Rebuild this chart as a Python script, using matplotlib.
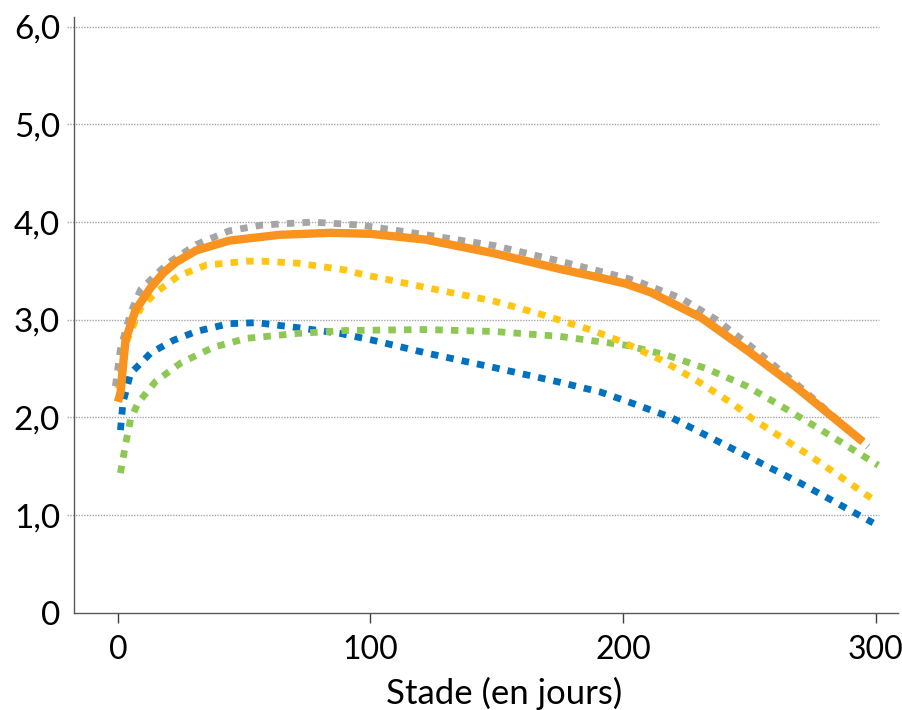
import numpy as np
import matplotlib
matplotlib.use("Agg")
import matplotlib.pyplot as plt

plt.rcParams['font.family'] = ['Lato', 'DejaVu Sans']

# values (stade in days, value)
gray_x = [-1, 1, 5, 9, 17, 21, 31, 44, 57, 77, 96, 122, 149, 175, 201, 207, 223, 237, 250, 267, 297]
gray_y = [2.32, 2.70, 3.07, 3.31, 3.51, 3.60, 3.77, 3.91, 3.97, 4.00, 3.97, 3.87, 3.76, 3.60, 3.43,
          3.38, 3.22, 3.00, 2.74, 2.38, 1.70]

orange_x = [0, 1, 3, 7, 13, 18, 23, 31, 44, 64, 84, 100, 122, 149, 175, 191, 201, 211, 231, 250, 269, 295]
orange_y = [2.16, 2.25, 2.79, 3.10, 3.33, 3.48, 3.59, 3.71, 3.81, 3.87, 3.89, 3.88, 3.82, 3.68, 3.52,
            3.43, 3.37, 3.28, 3.02, 2.67, 2.30, 1.75]

yellow_x = [0, 3, 9, 15, 24, 35, 51, 57, 71, 90, 96, 122, 149, 167, 188, 200, 215, 229, 244, 251, 275, 299]
yellow_y = [2.30, 2.75, 3.12, 3.28, 3.45, 3.56, 3.60, 3.60, 3.58, 3.51, 3.47, 3.33, 3.19, 3.06, 2.89,
            2.77, 2.59, 2.38, 2.13, 1.99, 1.59, 1.16]

green_x = [1, 3, 5, 8, 15, 25, 38, 51, 71, 90, 122, 149, 175, 201, 217, 233, 249, 263, 283, 301]
green_y = [1.43, 1.72, 1.98, 2.15, 2.37, 2.56, 2.72, 2.81, 2.86, 2.89, 2.90, 2.88, 2.83, 2.74,
           2.64, 2.50, 2.32, 2.11, 1.80, 1.51]

blue_x = [1, 2, 5, 13, 22, 31, 44, 55, 71, 88, 101, 122, 149, 175, 191, 201, 219, 244, 270, 299]
blue_y = [1.87, 2.15, 2.45, 2.66, 2.79, 2.88, 2.96, 2.97, 2.92, 2.86, 2.79, 2.66, 2.51, 2.36,
          2.26, 2.17, 2.00, 1.67, 1.33, 0.92]

y_ticks = [0, 1, 2, 3, 4, 5, 6]
y_labels = ["0", "1,0", "2,0", "3,0", "4,0", "5,0", "6,0"]
x_ticks = [0, 100, 200, 300]

fig = plt.figure(figsize=(9.02, 7.1), dpi=100)
ax = fig.add_axes([0.082, 0.137, 0.914, 0.839])

# gridlines (a bit past the left axis, stopping short of the right end)
ax.hlines(y_ticks[1:], -0.009, 0.976, transform=ax.get_yaxis_transform(),
          colors="#a6a6a6", linewidth=1.0, linestyle=(0, (1, 1)), clip_on=False, zorder=1)

dot = dict(linewidth=4.9, linestyle=(0, (1.1, 1.2)), dash_capstyle="butt", zorder=3)
ax.plot(blue_x, blue_y, color="#0070c0", **dot)
ax.plot(green_x, green_y, color="#8dc853", **dot)
ax.plot(yellow_x, yellow_y, color="#ffc513", **dot)
ax.plot(gray_x, gray_y, color="#a5a5a5", **dot)
ax.plot(orange_x, orange_y, color="#f7931e", linewidth=6, solid_capstyle="butt", zorder=4)

ax.set_xlim(-17.4, 309)
ax.set_ylim(0, 6.1)
ax.set_xticks(x_ticks)
ax.set_yticks(y_ticks)
ax.set_yticklabels(y_labels)

for s in ["top", "right"]:
    ax.spines[s].set_visible(False)
for s in ["left", "bottom"]:
    ax.spines[s].set_color("#595959")
    ax.spines[s].set_linewidth(1.0)

ax.tick_params(axis="y", length=0, pad=10, labelsize=24)
ax.tick_params(axis="x", length=7, width=1.0, color="#404040", pad=9, labelsize=23)
ax.set_xlabel("Stade (en jours)", fontsize=25)
ax.xaxis.set_label_coords(0.522, -0.107)

fig.savefig("out.png", dpi=100)
